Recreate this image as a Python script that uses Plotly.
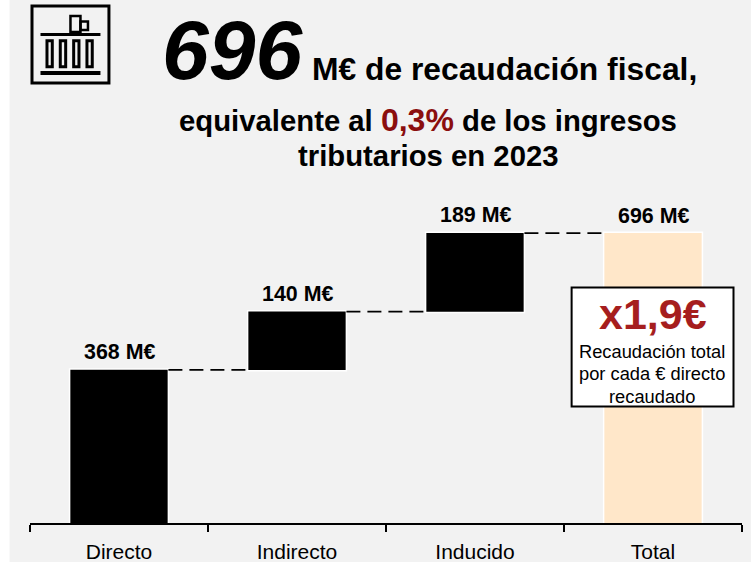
import plotly.graph_objects as go

categories = ["Directo", "Indirecto", "Inducido", "Total"]
values = [368, 140, 189, 696]
measures = ["relative", "relative", "relative", "total"]
labels = ["368 M€", "140 M€", "189 M€", "696 M€"]
label_levels = [368, 508, 697, 696]

W, H = 751, 562
FONT = "Liberation Sans, Arial, sans-serif"
ML, MR, MT, MB = 29.5, 9, 189, 39

def px(x):
    return (x - ML) / (W - ML - MR)

def py(y):
    return (H - MB - y) / (H - MT - MB)

shapes = []

def rect(x0, y0, x1, y1, line=None, lw=0, fill=None, layer="above"):
    shapes.append(dict(type="rect", xref="paper", yref="paper", x0=px(x0), x1=px(x1), y0=py(y1), y1=py(y0),
                       line=dict(color=line or "rgba(0,0,0,0)", width=lw), fillcolor=fill or "rgba(0,0,0,0)", layer=layer))

# background panel
rect(9, -2, W + 2, H + 2, fill="#F2F2F2", layer="below")
# icon
rect(31.5, 6, 108.5, 83, line="black", lw=3)
rect(70, 16, 80, 32, line="black", lw=2.5)
rect(80, 21.5, 87.5, 30, line="black", lw=2.5)
rect(40, 33, 100, 36, fill="black")
for cx0, cx1 in [(46.5, 51.8), (59.8, 65.2), (73.2, 78.5), (86.5, 91.8)]:
    rect(cx0, 40.8, cx1, 66.8, line="black", lw=3)
rect(40, 71, 100, 75, fill="black")
# callout box
rect(571.5, 287.5, 733.5, 406.5, line="black", lw=2, fill="white")

annotations = []

def note(text, x, y, size, color="black", bold=False, italic=False, xanchor="center"):
    t = text
    if bold:
        t = f"<b>{t}</b>"
    if italic:
        t = f"<i>{t}</i>"
    annotations.append(dict(text=t, x=px(x), y=py(y), xref="paper", yref="paper", xanchor=xanchor, yanchor="middle",
                            showarrow=False, font=dict(family=FONT, size=size, color=color), align="center",
                            bgcolor="rgba(0,0,0,0)", borderpad=0))

note("696", 232.5, 50, 84, bold=True, italic=True)
note("M€ de recaudación fiscal,", 504.5, 69, 31.8, bold=True)
note('equivalente al <span style="color:#8B0E0E;font-size:32px">0,3%</span> de los ingresos', 428, 120, 29.3, bold=True)
note("tributarios en 2023", 428, 156, 29.3, bold=True)
note("x1,9€", 652.5, 314, 43, color="#A61E1E", bold=True)
note("Recaudación total", 652.3, 351, 18.3)
note("por cada € directo", 652.3, 373, 18.3)
note("recaudado", 652.3, 396, 18.3)

for cat, level, lab in zip(categories, label_levels, labels):
    annotations.append(dict(text=f"<b>{lab}</b>", x=cat, y=level, xref="x", yref="y", xanchor="center", yanchor="middle",
                            yshift=18, showarrow=False, font=dict(family=FONT, size=21.4, color="black"), borderpad=0))

fig = go.Figure(go.Waterfall(
    x=categories, y=values, measure=measures,
    width=0.555,
    increasing=dict(marker=dict(color="black", line=dict(color="white", width=1.5))),
    totals=dict(marker=dict(color="#FFE7C9", line=dict(color="white", width=1.5))),
    connector=dict(mode="between", line=dict(color="black", width=1.8, dash="14px,7px")),
    cliponaxis=False, hoverinfo="skip",
))

fig.update_layout(
    width=W, height=H, autosize=False, showlegend=False,
    margin=dict(l=ML, r=MR, t=MT, b=MB, pad=0),
    paper_bgcolor="white", plot_bgcolor="rgba(0,0,0,0)",
    shapes=shapes, annotations=annotations,
    font=dict(family=FONT),
    xaxis=dict(type="category", showline=True, linecolor="black", linewidth=1.5, ticks="outside", tickson="boundaries",
               ticklen=7, tickwidth=1.5, tickcolor="black", showgrid=False, zeroline=False, ticklabelstandoff=9,
               automargin=False, tickfont=dict(family=FONT, size=21, color="black")),
    yaxis=dict(range=[0, 803], visible=False, showgrid=False, zeroline=False, automargin=False),
)

fig.write_html("out.html", config={"displayModeBar": False},
               post_script="document.body.style.margin='0';document.body.style.overflow='hidden';")
